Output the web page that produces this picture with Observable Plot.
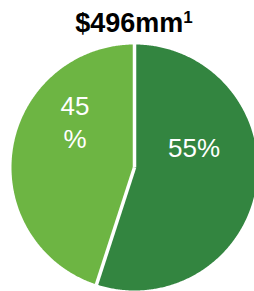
<!DOCTYPE html>
<html>
<head>
<meta charset="utf-8">
<script src="https://cdn.jsdelivr.net/npm/d3@7"></script>
<script src="https://cdn.jsdelivr.net/npm/@observablehq/plot@0.6"></script>
<style>
  html, body { margin: 0; padding: 0; background: #fff; }
  #title { height: 42px; width: 254px; font-family: "Liberation Sans", Arial, sans-serif; font-weight: bold; font-size: 27px; text-align: center; line-height: 42px; color: #000; box-sizing: border-box; padding-left: 14px; padding-top: 2px; overflow: hidden; }
  #title sup { font-size: 17px; vertical-align: 0; position: relative; top: -9px; }
  svg { display: block; }
</style>
</head>
<body>
<div id="title">$496mm<sup>1</sup></div>
<div id="chart"></div>
<script>
const categories = ["Segment A", "Segment B"];
const values = [55, 45];
const labels = ["55%", "45\n%"];
const colors = ["#338540", "#6db543"];

const R = 123;
const arcs = d3.pie().sort(null)(values);

function arcPoints(a, i) {
  const pts = [{x: 0, y: 0, k: categories[i]}];
  const n = Math.max(2, Math.ceil((a.endAngle - a.startAngle) / (Math.PI / 360)));
  for (let j = 0; j <= n; j++) {
    const t = a.startAngle + (a.endAngle - a.startAngle) * j / n;
    pts.push({x: R * Math.sin(t), y: R * Math.cos(t), k: categories[i]});
  }
  pts.push({x: 0, y: 0, k: categories[i]});
  return pts;
}

const sliceMarks = arcs.map((a, i) =>
  Plot.line(arcPoints(a, i), {x: "x", y: "y", fill: colors[i], stroke: "none", curve: "linear"})
);

const labelLift = [31, 37];
const labelMarks = arcs.map((a, i) => {
  const m = (a.startAngle + a.endAngle) / 2;
  const r = 0.49 * R;
  return Plot.text([{x: r * Math.sin(m), y: r * Math.cos(m), text: labels[i]}], {
    x: "x", y: "y", text: "text", dy: -labelLift[i],
    fill: "white", fontSize: 26, lineHeight: 1.27,
    fontFamily: "Liberation Sans, Arial, sans-serif", lineAnchor: "middle"
  });
});

const chart = Plot.plot({
  width: 254,
  height: 249,
  margin: 0,
  x: {domain: [-134, 120], axis: null},
  y: {domain: [-124, 125], axis: null},
  marks: [
    ...sliceMarks,
    Plot.link(arcs, {
      x1: () => 0, y1: () => 0,
      x2: a => (R + 2) * Math.sin(a.startAngle),
      y2: a => (R + 2) * Math.cos(a.startAngle),
      stroke: "white", strokeWidth: 3.5
    }),
    ...labelMarks
  ]
});
document.getElementById("chart").appendChild(chart);
</script>
</body>
</html>
